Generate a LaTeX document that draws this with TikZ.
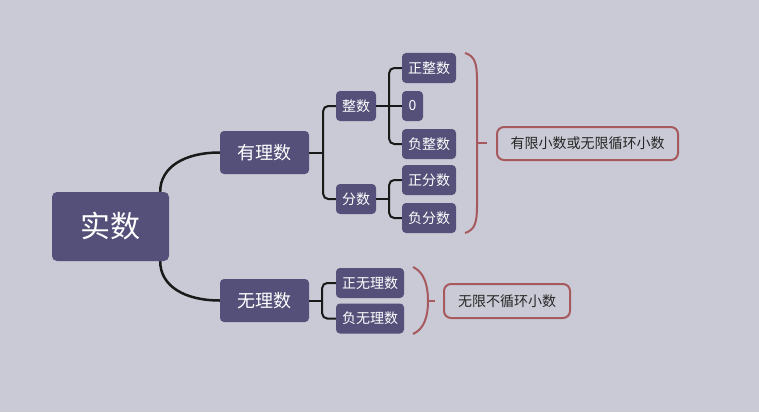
\documentclass[tikz,border=0pt]{standalone}
\usepackage{fontspec}
\newfontfamily\cjk{Noto Sans CJK SC}
\definecolor{bg}{HTML}{CACAD6}
\definecolor{nodefill}{HTML}{545079}
\definecolor{bracecol}{HTML}{A65A5E}
\begin{document}
\begin{tikzpicture}[x=1pt,y=-1pt,
  tnode/.style={fill=nodefill, rounded corners=4pt, text=white, inner sep=0pt,
    font=\cjk\fontsize{14}{16}\selectfont},
  small/.style={tnode, minimum width=54pt, minimum height=30pt},
  mid/.style={tnode, minimum width=89pt, minimum height=43pt, font=\cjk\fontsize{18}{20}\selectfont},
  note/.style={draw=bracecol, line width=2pt, rounded corners=7pt, text=black!85, inner sep=0pt,
    font=\cjk\fontsize{14}{16}\selectfont},
  conn/.style={draw=black!90, line width=2pt, rounded corners=5pt},
  mainconn/.style={draw=black!90, line width=2.5pt},
  bracestyle/.style={draw=bracecol, line width=2pt}
]
\fill[bg] (0,0) rectangle (759,412);
\useasboundingbox (0,0) rectangle (759,412);

% nodes
\node[tnode, rounded corners=5pt, minimum width=117pt, minimum height=69pt,
  font=\cjk\fontsize{30}{34}\selectfont] (sx) at (110.5,226.5) {实数};
\node[mid] (yl) at (264.5,152.5) {有理数};
\node[mid] (wl) at (264.5,300.5) {无理数};
\node[small, minimum width=40pt] (zs) at (356,106) {整数};
\node[small, minimum width=40pt] (fs) at (356,199) {分数};
\node[small] (zzs) at (429,68) {正整数};
\node[small, minimum width=21pt] (zero) at (412.5,106) {0};
\node[small] (fzs) at (429,144) {负整数};
\node[small] (zfs) at (429,180) {正分数};
\node[small] (ffs) at (429,218) {负分数};
\node[small, minimum width=68pt] (zw) at (370,283) {正无理数};
\node[small, minimum width=68pt] (fw) at (370,318.5) {负无理数};
\node[note, minimum width=181pt, minimum height=33pt] (n1) at (587.5,143.5) {有限小数或无限循环小数};
\node[note, minimum width=126pt, minimum height=34pt] (n2) at (507,301) {无限不循环小数};

% main curves
\draw[mainconn] ([xshift=-9pt]sx.north east) .. controls +(0,-25) and +(-35,0) .. (yl.west);
\draw[mainconn] ([xshift=-9pt]sx.south east) .. controls +(0,25) and +(-35,0) .. (wl.west);

% junctions
\coordinate (j1) at ([xshift=14pt]yl.east);
\coordinate (j2) at ([xshift=13pt]zs.east);
\coordinate (j3) at ([xshift=13pt]fs.east);
\coordinate (j4) at ([xshift=13pt]wl.east);

\draw[conn] (yl.east) -- (j1);
\draw[conn] (zs.west) -| (j1) |- (fs.west);
\draw[conn] (zs.east) -- (zero.west);
\draw[conn] (zzs.west) -| (j2) |- (fzs.west);
\draw[conn] (fs.east) -- (j3);
\draw[conn] (zfs.west) -| (j3) |- (ffs.west);
\draw[conn] (wl.east) -- (j4);
\draw[conn] (zw.west) -| (j4) |- (fw.west);

% braces
\draw[bracestyle] (465,53) .. controls (475,56) and (477,64) .. (477,80) -- (477,206)
  .. controls (477,222) and (475,230) .. (465,233);
\draw[bracestyle] (477,143) -- (487,143);
\draw[bracestyle] (413,267) .. controls (424,272) and (428,285) .. (428,301)
  .. controls (428,317) and (424,329) .. (413,334);
\draw[bracestyle] (428,301) -- (435,301);
\end{tikzpicture}
\end{document}
